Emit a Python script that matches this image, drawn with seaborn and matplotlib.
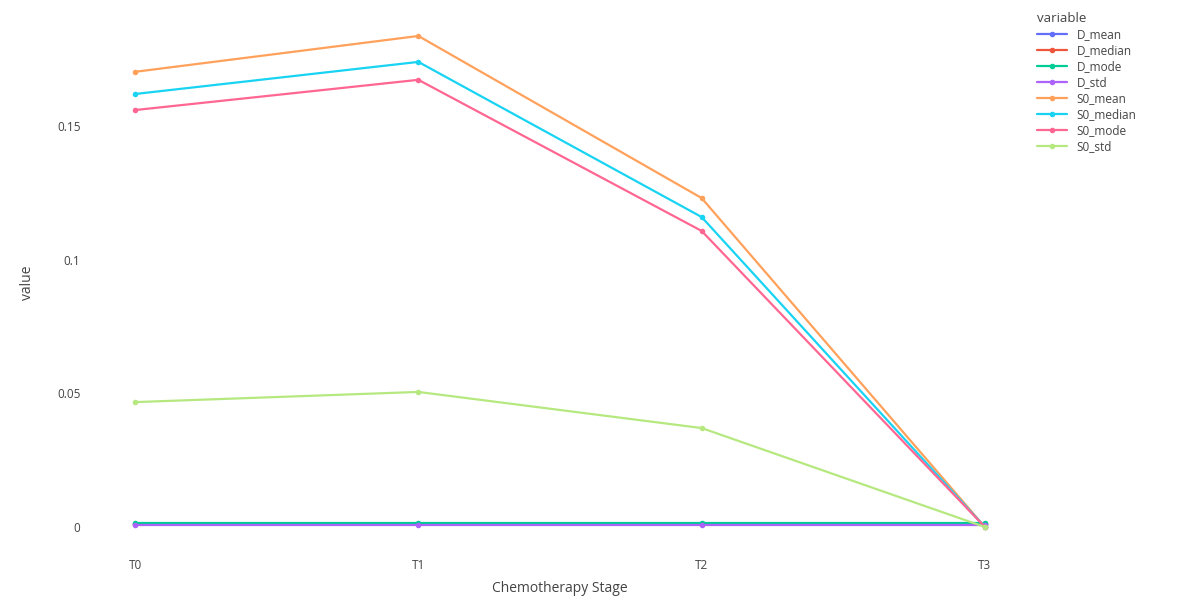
import matplotlib
matplotlib.use("Agg")
import matplotlib.pyplot as plt
import seaborn as sns
import pandas as pd

# data
stages = ["T0", "T1", "T2", "T3"]
D_mean = [0.0012, 0.0012, 0.0012, 0.0012]
D_median = [0.0013, 0.0013, 0.0013, 0.0013]
D_mode = [0.0016, 0.0016, 0.0016, 0.0016]
D_std = [0.0008, 0.0008, 0.0008, 0.0008]
S0_mean = [0.1702, 0.1836, 0.1230, 0.0]
S0_median = [0.1619, 0.1739, 0.1159, 0.0]
S0_mode = [0.1559, 0.1672, 0.1107, 0.0]
S0_std = [0.0467, 0.0505, 0.0370, 0.0]

series_names = ["D_mean", "D_median", "D_mode", "D_std",
                "S0_mean", "S0_median", "S0_mode", "S0_std"]
series_values = [D_mean, D_median, D_mode, D_std,
                 S0_mean, S0_median, S0_mode, S0_std]
colors = ["#636EFA", "#EF553B", "#00CC96", "#AB63FA",
          "#FFA15A", "#19D3F3", "#FF6692", "#B6E880"]

rows = []
for name, vals in zip(series_names, series_values):
    for stage, v in zip(stages, vals):
        rows.append({"Chemotherapy Stage": stage, "variable": name, "value": v})
df = pd.DataFrame(rows)

sns.set_style("white")
plt.rcParams['font.family'] = ['Open Sans', 'DejaVu Sans']

fig = plt.figure(figsize=(11.8, 5.97), dpi=100)
ax = fig.add_axes([100 / 1180, 57 / 597, 920 / 1180, 515 / 597])

sns.lineplot(data=df, x="Chemotherapy Stage", y="value", hue="variable",
             palette=colors, marker="o", markersize=4, markeredgewidth=0,
             linewidth=1.6, ax=ax, sort=False)

ax.set_xlim(-0.124, 3.124)
ax.set_ylim(-0.00486, 0.1877)
ax.set_yticks([0, 0.05, 0.1, 0.15])
ax.set_yticklabels(["0", "0.05", "0.1", "0.15"])
for s in ax.spines.values():
    s.set_visible(False)
ax.tick_params(axis="x", length=0, labelsize=8.5, colors="#444444", pad=14)
ax.tick_params(axis="y", length=0, labelsize=8.5, colors="#444444", pad=14)
ax.set_xlabel("Chemotherapy Stage", fontsize=10, color="#444444", labelpad=6)
ax.set_ylabel("value", fontsize=10, color="#444444", labelpad=16)

handles, labels = ax.get_legend_handles_labels()
ax.get_legend().remove()
leg = fig.legend(handles, labels, title="variable", loc="upper left",
                 bbox_to_anchor=(1026 / 1180, 1 - 1 / 597), frameon=False,
                 fontsize=8.5, title_fontsize=9.5, handlelength=2.6,
                 labelspacing=0.26, alignment="left")
for t in leg.get_texts():
    t.set_color("#444444")
leg.get_title().set_color("#444444")

fig.savefig("out.png", dpi=100)
